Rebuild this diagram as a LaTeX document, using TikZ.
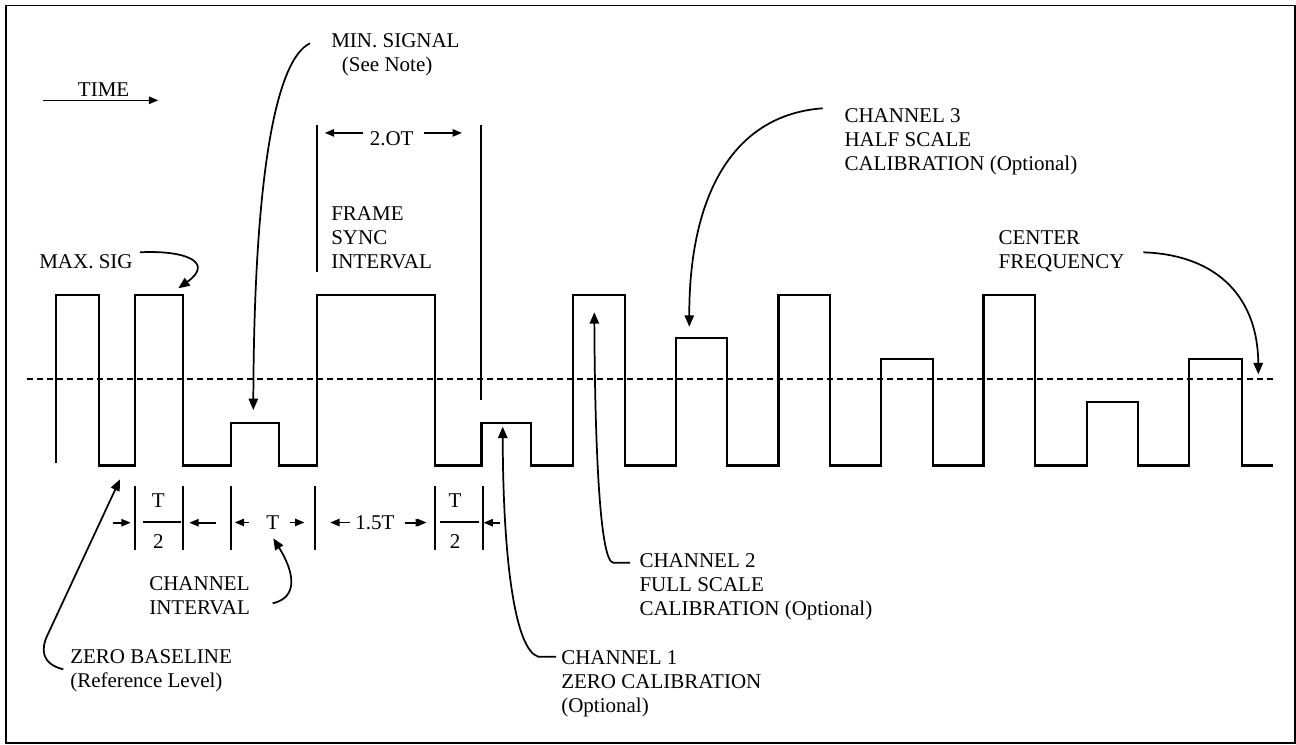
\documentclass[tikz,border=0pt]{standalone}
\usepackage{fontspec}
\setmainfont{Liberation Serif}
\usetikzlibrary{arrows.meta,calc}

\begin{document}
\begin{tikzpicture}[x=0.75pt,y=0.75pt,yscale=-1,xscale=1,
  txt/.style={anchor=base west,inner sep=0.75pt,align=left,font=\fontsize{15.75}{18}\selectfont},
  dimtxt/.style={anchor=base,inner sep=0.75pt,font=\fontsize{15.75}{18}\selectfont},
  signal/.style={line width=1.8pt,line join=miter},
  leader/.style={line width=1.3pt,-{Triangle[length=8.5pt,width=7pt]}},
  dimarrow/.style={line width=1.2pt,-{Triangle[length=7pt,width=5.5pt]}},
  tickline/.style={line width=1.6pt}]
\useasboundingbox (0,0) rectangle (1296,744);

%Shape: Frame
\draw [line width=1.2pt] (6,5.5) rectangle (1294.8,742.8);

%Straight Lines: center frequency
\draw [line width=1.4pt] [dash pattern={on 4.5pt off 3pt}] (26.7,379.3) -- (1272.7,379.3);

%Straight Lines: signal
\draw [signal] (55.7,463) -- (55.7,294.7) -- (98.7,294.7) -- (98.7,465.3) -- (134.7,465.3) -- (134.7,294.7) -- (182.7,294.7) -- (182.7,465.3) -- (230.7,465.3) -- (230.7,422.7) -- (278.7,422.7) -- (278.7,465.3) -- (316.7,465.3) -- (316.7,294.7) -- (435,294.7) -- (435,465.3) -- (481.3,465.3) -- (481.3,422.7) -- (530.7,422.7) -- (530.7,465.3) -- (573,465.3) -- (573,294.7) -- (624.7,294.7) -- (624.7,465.3) -- (675.7,465.3) -- (675.7,337.7) -- (726.7,337.7) -- (726.7,465.3) -- (778.3,465.3) -- (778.3,294.7) -- (830,294.7) -- (830,465.3) -- (880.7,465.3) -- (880.7,358.7) -- (932.7,358.7) -- (932.7,465.3) -- (983.3,465.3) -- (983.3,294.7) -- (1035,294.7) -- (1035,465.3) -- (1086.7,465.3) -- (1086.7,401.7) -- (1137.7,401.7) -- (1137.7,465.3) -- (1189,465.3) -- (1189,358.7) -- (1242,358.7) -- (1242,465.3) -- (1272.7,465.3);

%Straight Lines: frame sync markers
\draw [tickline] (316.7,125) -- (316.7,272.3) (480.7,125) -- (480.7,400);

%Straight Lines: interval ticks and fraction bars
\coordinate (tk1) at (135,522.7);
\coordinate (tk2) at (182.7,522.7);
\coordinate (tk3) at (230.7,522.7);
\coordinate (tk4) at (314.7,522.7);
\coordinate (tk5) at (435,522.7);
\coordinate (tk6) at (482.7,522.7);
\draw [tickline] (135,486) -- (135,550) (182.7,486) -- (182.7,550) (230.7,486) -- (230.7,550) (314.7,486) -- (314.7,550) (435,486) -- (435,550) (482.7,486) -- (482.7,550);
\draw [tickline] (143.3,522.3) -- (181,522.3) (440,522.3) -- (479,522.3);

%Points on the signal
\coordinate (p-min) at (253.3,410);
\coordinate (p-max) at (178.3,288.3);
\coordinate (p-ch3) at (689.3,326.7);
\coordinate (p-cf) at (1258.3,374.3);
\coordinate (p-ch2) at (594.3,312.3);
\coordinate (p-ch1) at (502.7,426.7);
\coordinate (p-zero) at (120,479.3);
\coordinate (p-chint) at (273.3,538.3);
\coordinate (time-from) at (43.3,100.3);
\coordinate (time-to) at (158.3,100.3);

% Text Node
\node [txt] (time) at (76.7,96.3) {TIME};
% Text Node
\node [txt] (minsig) at (330,71.3) {MIN. SIGNAL\\\hspace*{8pt}(See Note)};
% Text Node
\node [txt] (frame) at (330,268) {FRAME\\SYNC\\INTERVAL};
% Text Node
\node [txt] (maxsig) at (38,268) {MAX. SIG};
% Text Node
\node [txt] (ch3) at (843.3,170.3) {CHANNEL 3\\HALF SCALE\\CALIBRATION (Optional)};
% Text Node
\node [txt] (centfreq) at (997.3,268) {CENTER\\FREQUENCY};
% Text Node
\node [txt] (ch2) at (638.3,615) {CHANNEL 2\\FULL SCALE\\CALIBRATION (Optional)};
% Text Node
\node [txt] (ch1) at (560,712) {CHANNEL 1\\ZERO CALIBRATION\\(Optional)};
% Text Node
\node [txt] (zero) at (69,687) {ZERO BASELINE\\(Reference Level)};
% Text Node
\node [txt] (chint) at (148,614.7) {CHANNEL\\INTERVAL};

% Text Node: intervals
\node [dimtxt] (twoOT) at (391.7,145) {2.OT};
\node [dimtxt] (halfa) at (158.3,507) {T};
\node [dimtxt] (halfa2) at (158.3,548.8) {2};
\node [dimtxt] (tmid) at (272.7,529.3) {T};
\node [dimtxt] (onefive) at (375,529.3) {1.5T};
\node [dimtxt] (halfb) at (455,507) {T};
\node [dimtxt] (halfb2) at (455,548.8) {2};

%Straight Lines: dimension arrows
\draw [dimarrow] (time-from) -- (time-to);
\draw [dimarrow] ($(twoOT.west)+(-5.8,-5.3)$) -- ++(-38,0);
\draw [dimarrow] ($(twoOT.east)+(8.7,-5.3)$) -- ++(38.4,0);
\draw [dimarrow] ($(tk1)+(-21.7,0)$) -- ++(17.4,0);
\draw [dimarrow] ($(tk2)+(33.3,0)$) -- ++(-26.7,0);
\draw [dimarrow] ($(tmid.west)+(-16,0)$) -- ++(-14.3,0);
\draw [dimarrow] ($(tmid.east)+(10,0)$) -- ++(14,0);
\draw [dimarrow] ($(onefive.west)+(-4,0)$) -- ++(-20,0);
\draw [dimarrow] ($(onefive.east)+(10.7,0)$) -- ++(20,0);
\draw [dimarrow] ($(tk5)+(-30,0)$) -- ++(20,0);
\draw [dimarrow] ($(tk6)+(17.3,0)$) -- ++(-16.5,0);

%Curve Lines: leaders
\draw [leader] ($(minsig.base west)+(-20,-28)$) .. controls (275,60) and (254,180) .. (p-min);
\draw [leader] ($(maxsig.base east)+(6,-15.7)$) .. controls (185,250) and (215,262) .. (p-max);
\draw [leader] ($(ch3.base west)+(-20.6,-62)$) .. controls (730,115) and (689,200) .. (p-ch3);
\draw [leader] ($(centfreq.base west)+(146,-15.7)$) .. controls (1220,255) and (1258,300) .. (p-cf);
\draw [leader] ($(ch2.base west)+(-8.3,-52.3)$) -- (613.3,562.7) .. controls (600,562) and (595,450) .. (p-ch2);
\draw [leader] ($(ch1.base west)+(-4,-55.3)$) -- (538.3,656.7) .. controls (515,650) and (503,560) .. (p-ch1);
\draw [leader] ($(zero.base west)+(-5.7,-17.7)$) .. controls (42,664) and (40,650) .. (48,634) -- (p-zero);
\draw [leader] ($(chint.base west)+(124.7,-11.4)$) .. controls (300,597) and (293,570) .. (p-chint);

\end{tikzpicture}
\end{document}
